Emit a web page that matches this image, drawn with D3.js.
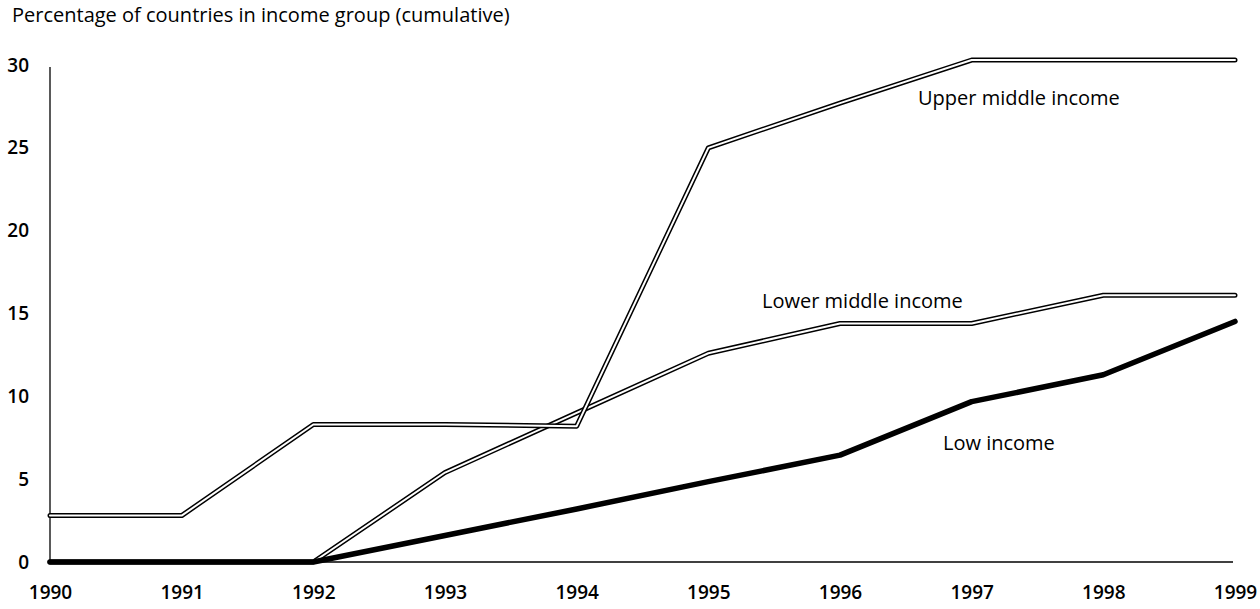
<!DOCTYPE html>
<html>
<head>
<meta charset="utf-8">
<script src="https://cdn.jsdelivr.net/npm/d3@7"></script>
<style>
  html, body { margin: 0; padding: 0; background: #fff; }
  svg { display: block; }
  text { font-family: "Open Sans", "Noto Sans", sans-serif; fill: #000; }
</style>
</head>
<body>
<svg id="chart" width="1260" height="609"></svg>
<script>
const years = [1990, 1991, 1992, 1993, 1994, 1995, 1996, 1997, 1998, 1999];
const upperMiddle = [2.8, 2.8, 8.3, 8.3, 8.2, 25.0, 27.7, 30.3, 30.3, 30.3];
const lowerMiddle = [0, 0, 0, 5.4, 9.0, 12.6, 14.4, 14.4, 16.1, 16.1];
const lowIncome = [0, 0, 0, 1.6, 3.2, 4.85, 6.45, 9.68, 11.3, 14.52];
const yTicks = [0, 5, 10, 15, 20, 25, 30];
const title = "Percentage of countries in income group (cumulative)";
const seriesLabels = ["Upper middle income", "Lower middle income", "Low income"];

const svg = d3.select("#chart");
const x = d3.scaleLinear().domain([1990, 1999]).range([50, 1235]);
const y = d3.scaleLinear().domain([0, 30]).range([562, 65]);

// title
svg.append("text").attr("x", 12).attr("y", 22)
  .attr("font-size", 20).text(title);

// y axis
const yAxis = d3.axisLeft(y).tickValues(yTicks).tickSize(0).tickPadding(21).tickFormat(d3.format("d"));
const gy = svg.append("g").attr("transform", "translate(50,0)").call(yAxis);
gy.select(".domain").remove();
gy.selectAll("text").attr("font-size", 19).attr("font-weight", 600)
  .attr("font-family", "Open Sans, sans-serif").attr("fill", "#000");
svg.append("line").attr("x1", 50).attr("x2", 50).attr("y1", 67).attr("y2", y(0))
  .attr("stroke", "#000").attr("stroke-width", 1.3);

// x axis
const xAxis = d3.axisBottom(x).tickValues(years).tickSize(0).tickPadding(24).tickFormat(d3.format("d"));
const gx = svg.append("g").attr("transform", `translate(0,${y(0)})`).call(xAxis);
gx.select(".domain").remove();
gx.selectAll("text").attr("font-size", 19).attr("font-weight", 600)
  .attr("font-family", "Open Sans, sans-serif").attr("fill", "#000");
svg.append("line").attr("x1", 50).attr("x2", 1233).attr("y1", y(0)).attr("y2", y(0))
  .attr("stroke", "#000").attr("stroke-width", 1.3);

const line = d3.line().x((d, i) => x(years[i])).y(d => y(d));

// double lines (black outline, white core)
function doubleLine(vals) {
  svg.append("path").datum(vals).attr("d", line)
    .attr("fill", "none").attr("stroke", "#000").attr("stroke-width", 5)
    .attr("stroke-linejoin", "round").attr("stroke-linecap", "round");
  svg.append("path").datum(vals).attr("d", line)
    .attr("fill", "none").attr("stroke", "#fff").attr("stroke-width", 2)
    .attr("stroke-linejoin", "round").attr("stroke-linecap", "round");
}
doubleLine(lowerMiddle);
doubleLine(upperMiddle);

// low income solid thick
svg.append("path").datum(lowIncome).attr("d", line)
  .attr("fill", "none").attr("stroke", "#000").attr("stroke-width", 5.5)
  .attr("stroke-linejoin", "round").attr("stroke-linecap", "round");

// series labels
const labelPos = [[918, 105], [762, 308], [943, 450]];
seriesLabels.forEach((t, i) => {
  svg.append("text").attr("x", labelPos[i][0]).attr("y", labelPos[i][1])
    .attr("font-size", 20).text(t);
});
</script>
</body>
</html>
